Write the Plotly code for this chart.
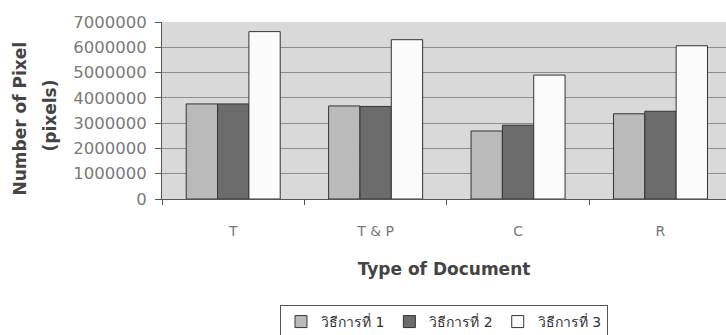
import plotly.graph_objects as go

categories = ["T", "T & P", "C", "R"]
method1 = [3760000, 3680000, 2690000, 3370000]
method2 = [3760000, 3660000, 2920000, 3470000]
method3 = [6620000, 6300000, 4900000, 6060000]
series_names = ["วิธีการที่ 1", "วิธีการที่ 2", "วิธีการที่ 3"]
y_ticks = [0, 1000000, 2000000, 3000000, 4000000, 5000000, 6000000, 7000000]
y_title_lines = ["Number of Pixel", "(pixels)"]
x_title = "Type of Document"

colors = ["#bababa", "#6c6c6c", "#fbfbfb"]

fig = go.Figure()
for name, vals, col in zip(series_names, [method1, method2, method3], colors):
    fig.add_trace(go.Bar(
        x=categories, y=vals, name=name,
        marker=dict(color=col, line=dict(color="#333333", width=1)),
    ))

fig.update_layout(
    width=726, height=335,
    margin=dict(l=162, r=0, t=22, b=136),
    paper_bgcolor="#ffffff",
    plot_bgcolor="#d9d9d9",
    barmode="group", bargap=0.34, bargroupgap=0,
    font=dict(family="DejaVu Sans", color="#666666"),
    showlegend=True,
    legend=dict(
        orientation="h", x=0.5, xanchor="center",
        yref="container", y=0.0896, yanchor="top",
        bordercolor="#555555", borderwidth=1, bgcolor="#ffffff",
        font=dict(size=14, color="#333333"),
        itemwidth=30, traceorder="normal",
    ),
)

fig.update_xaxes(
    range=[-0.5, 3.46], automargin=False,
    showline=True, linecolor="#555555", linewidth=1,
    ticks="outside", tickson="boundaries", ticklen=5, tickcolor="#555555",
    tickfont=dict(size=14, color="#777777"),
    ticklabelstandoff=19,
    title=dict(text="<b>" + x_title + "</b>", font=dict(size=17, color="#444444"), standoff=25),
)
fig.update_yaxes(
    range=[0, 7000000], automargin=False,
    tickvals=y_ticks, tickformat="d",
    showline=True, linecolor="#555555", linewidth=1,
    ticks="outside", ticklen=6, tickcolor="#555555",
    showgrid=True, gridcolor="#8e8e8e", gridwidth=1,
    zeroline=False,
    tickfont=dict(size=16.5, color="#7a7a7a"),
    ticklabelstandoff=5,
)

fig.add_annotation(
    text="<b>" + y_title_lines[0] + "</b>", textangle=-90,
    xref="paper", yref="paper", x=0, y=0.5, xanchor="center", yanchor="middle",
    xshift=-143, yshift=-8, showarrow=False,
    font=dict(size=17, color="#444444"),
)
fig.add_annotation(
    text="<b>" + y_title_lines[1] + "</b>", textangle=-90,
    xref="paper", yref="paper", x=0, y=0.5, xanchor="center", yanchor="middle",
    xshift=-113, yshift=-5, showarrow=False,
    font=dict(size=17, color="#444444"),
)

fig.write_html("out.html", config={"displayModeBar": False},
               post_script="document.body.style.margin='0';")
